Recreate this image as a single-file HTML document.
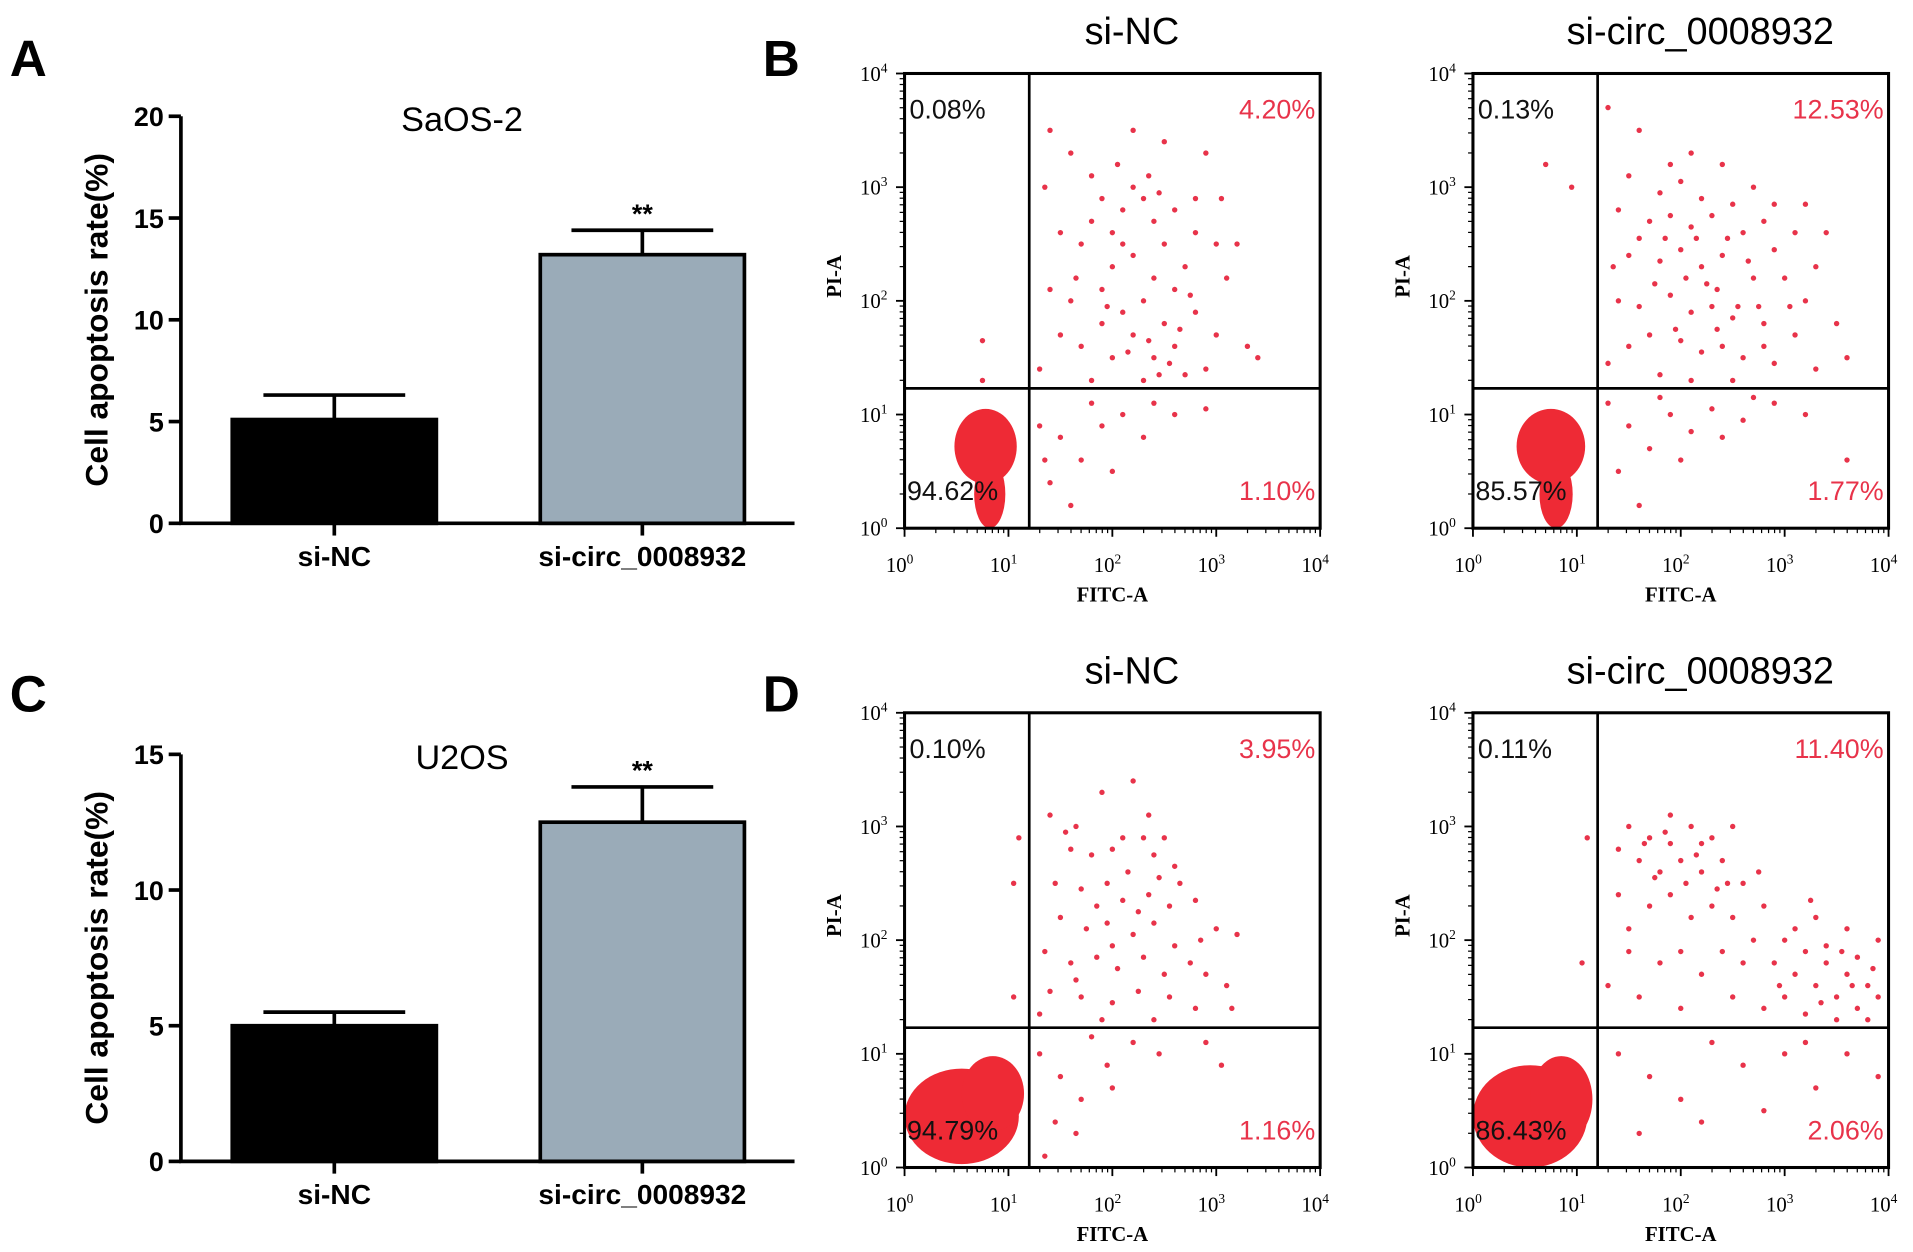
<!DOCTYPE html>
<html><head><meta charset="utf-8"><style>
html,body{margin:0;padding:0;background:#fff}
svg{display:block}
text{font-family:"Liberation Sans",Arial,sans-serif}
.serif{font-family:"Liberation Serif",serif}
</style></head><body>
<svg id="fig" width="1913" height="1252" viewBox="0 0 1565 1024" xmlns="http://www.w3.org/2000/svg">
<text x="8" y="62" font-size="42" font-weight="bold">A</text>
<text x="624" y="62" font-size="42" font-weight="bold">B</text>
<text x="8" y="582" font-size="42" font-weight="bold">C</text>
<text x="624" y="582" font-size="42" font-weight="bold">D</text>
<g id="charts"></g>
</svg>
<script>
// Bar chart data
const barCategories = ["si-NC","si-circ_0008932"];
const saosValues = [5.1, 13.2];
const saosErrors = [1.2, 1.2];
const saosTicks = [0,5,10,15,20];
const u2osValues = [5.0, 12.5];
const u2osErrors = [0.5, 1.3];
const u2osTicks = [0,5,10,15];
// Flow cytometry data (log10 units)
const q1Labels = ["0.08%","0.13%","0.10%","0.11%"];
const q2Labels = ["4.20%","12.53%","3.95%","11.40%"];
const q3Labels = ["94.62%","85.57%","94.79%","86.43%"];
const q4Labels = ["1.10%","1.77%","1.16%","2.06%"];
const flowTitles = ["si-NC","si-circ_0008932"];
const gateX = [1.2,1.2,1.2,1.2];
const gateY = [1.23,1.23,1.23,1.23];
const flow1Points = [[1.4,3.5],[1.6,3.3],[1.8,3.1],[2.2,3.5],[2.5,3.4],[2.9,3.3],[1.9,2.9],[2.1,2.8],[2.3,2.9],[2.4,2.7],[2.6,2.8],[2.8,2.6],[3.0,2.5],[1.5,2.6],[1.7,2.5],[2.0,2.6],[2.2,2.4],[2.5,2.5],[2.7,2.3],[3.1,2.2],[1.4,2.1],[1.6,2.0],[1.9,2.1],[2.1,1.9],[2.3,2.0],[2.5,1.8],[2.8,1.9],[3.0,1.7],[3.3,1.6],[1.5,1.7],[1.7,1.6],[2.0,1.5],[2.2,1.7],[2.4,1.5],[2.6,1.6],[2.9,1.4],[1.3,1.4],[1.8,1.3],[2.3,1.3],[2.7,1.35],[3.4,1.5],[2.0,2.3],[2.6,2.1],[1.9,1.8],[2.4,2.2],[2.8,2.9],[2.2,3.0],[1.8,2.7],[2.1,2.5],[2.35,1.65],[2.55,1.45],[2.45,1.35],[2.65,1.75],[2.15,1.55],[1.95,1.95],[2.75,2.05],[3.05,2.9],[3.2,2.5],[1.35,3.0],[2.05,3.2],[2.35,3.1],[1.65,2.2],[2.45,2.95],[1.3,0.9],[1.5,0.8],[1.7,0.6],[1.9,0.9],[2.1,1.0],[2.3,0.8],[2.6,1.0],[1.4,0.4],[1.6,0.2],[2.0,0.5],[1.8,1.1],[2.4,1.1],[1.35,0.6],[2.9,1.05],[0.75,1.65],[0.75,1.3]];
const flow2Points = [[1.3,3.7],[1.6,3.5],[1.9,3.2],[2.1,3.3],[2.4,3.2],[2.7,3.0],[1.5,3.1],[1.8,2.95],[2.0,3.05],[2.2,2.9],[2.5,2.85],[2.8,2.7],[3.1,2.6],[1.4,2.8],[1.7,2.7],[1.9,2.75],[2.1,2.65],[2.3,2.75],[2.6,2.6],[2.9,2.45],[3.3,2.3],[1.5,2.4],[1.8,2.35],[2.0,2.45],[2.2,2.3],[2.4,2.4],[2.7,2.2],[3.0,2.2],[3.2,2.0],[3.5,1.8],[1.4,2.0],[1.6,1.95],[1.9,2.05],[2.1,1.9],[2.3,1.95],[2.5,1.85],[2.8,1.8],[3.1,1.7],[1.5,1.6],[1.7,1.7],[2.0,1.65],[2.2,1.55],[2.4,1.6],[2.6,1.5],[2.9,1.45],[3.3,1.4],[1.3,1.45],[1.8,1.35],[2.1,1.3],[2.5,1.3],[2.8,1.6],[2.35,2.1],[2.05,2.2],[1.75,2.15],[2.65,2.35],[2.15,2.55],[2.45,2.55],[1.85,2.55],[2.25,2.15],[2.55,1.95],[1.95,1.75],[2.35,1.75],[2.75,1.95],[3.05,1.95],[3.4,2.6],[3.6,1.5],[1.35,2.3],[1.6,2.55],[2.9,2.85],[3.2,2.85],[1.3,1.1],[1.5,0.9],[1.7,0.7],[1.9,1.0],[2.1,0.85],[2.3,1.05],[2.6,0.95],[2.9,1.1],[3.2,1.0],[1.4,0.5],[1.6,0.2],[2.0,0.6],[1.8,1.15],[2.4,0.8],[3.6,0.6],[2.7,1.15],[0.95,3.0],[0.7,3.2]];
const flow3Points = [[1.4,3.1],[1.65,3.0],[1.9,3.3],[2.2,3.4],[2.3,2.9],[2.5,2.9],[1.6,2.8],[1.8,2.75],[2.0,2.8],[2.15,2.6],[2.4,2.75],[2.6,2.65],[1.45,2.5],[1.7,2.45],[1.95,2.5],[2.1,2.35],[2.35,2.4],[2.55,2.3],[2.8,2.35],[3.0,2.1],[1.5,2.2],[1.75,2.1],[1.95,2.15],[2.2,2.05],[2.4,2.15],[2.6,1.95],[2.85,2.0],[3.2,2.05],[1.35,1.9],[1.6,1.8],[1.85,1.85],[2.05,1.75],[2.3,1.85],[2.5,1.7],[2.75,1.8],[3.1,1.6],[1.4,1.55],[1.7,1.5],[2.0,1.45],[2.25,1.55],[2.55,1.5],[2.8,1.4],[1.3,1.35],[1.9,1.3],[2.4,1.3],[3.15,1.4],[2.1,2.9],[1.85,2.3],[2.45,2.55],[2.25,2.25],[1.65,1.65],[2.65,2.5],[2.0,1.95],[2.9,1.7],[1.55,2.95],[2.35,3.1],[1.3,1.0],[1.5,0.8],[1.7,0.6],[1.95,0.9],[2.2,1.1],[2.45,1.0],[2.9,1.1],[1.45,0.4],[1.65,0.3],[2.0,0.7],[1.8,1.15],[3.05,0.9],[1.35,0.1],[1.1,2.9],[1.05,2.5],[1.05,1.5]];
const flow4Points = [[1.5,3.0],[1.7,2.9],[1.9,3.1],[2.1,3.0],[2.3,2.9],[2.5,3.0],[1.6,2.7],[1.8,2.6],[2.0,2.7],[2.2,2.6],[2.4,2.7],[2.6,2.5],[1.4,2.4],[1.7,2.3],[1.9,2.4],[2.1,2.2],[2.3,2.3],[2.5,2.2],[2.8,2.3],[3.0,2.0],[3.2,1.9],[3.4,1.8],[3.6,1.7],[3.8,1.6],[3.9,1.5],[3.1,1.7],[3.3,1.6],[3.5,1.5],[3.7,1.4],[2.9,1.8],[2.7,2.0],[2.6,1.8],[3.0,1.5],[3.2,1.35],[3.5,1.3],[3.8,1.3],[2.4,1.9],[2.2,1.7],[2.0,1.9],[1.8,1.8],[1.5,1.9],[1.3,1.6],[1.6,1.5],[2.0,1.4],[2.5,1.5],[2.8,1.4],[3.3,2.2],[3.6,2.1],[3.9,2.0],[3.4,1.95],[3.7,1.85],[3.1,2.1],[1.5,2.1],[1.4,2.8],[1.9,2.85],[2.15,2.75],[2.35,2.45],[2.05,2.5],[1.75,2.55],[3.85,1.75],[1.65,2.85],[2.2,2.85],[1.85,2.95],[2.45,2.5],[2.75,2.6],[3.25,2.35],[3.55,1.9],[3.65,1.6],[3.35,1.45],[2.95,1.6],[1.4,1.0],[1.7,0.8],[2.0,0.6],[2.3,1.1],[2.6,0.9],[3.0,1.0],[3.3,0.7],[3.6,1.0],[3.9,0.8],[1.6,0.3],[2.8,0.5],[3.2,1.1],[2.2,0.4],[1.1,2.9],[1.05,1.8]];
const flowClusters = [
  [[0.78,0.72,0.3,0.33],[0.82,0.3,0.15,0.3]],
  [[0.75,0.72,0.33,0.33],[0.8,0.3,0.16,0.3]],
  [[0.55,0.45,0.55,0.42],[0.85,0.65,0.3,0.33]],
  [[0.55,0.45,0.55,0.45],[0.85,0.6,0.3,0.38]]
];
const decadeTicks = [0,1,2,3,4];

const NS="http://www.w3.org/2000/svg";
const root=document.getElementById('charts');
function mk(tag,attrs,parent){const e=document.createElementNS(NS,tag);for(const k in attrs)e.setAttribute(k,attrs[k]);(parent||root).appendChild(e);return e;}

function barChart(o){
  const g=mk('g',{});
  
  
  const y=v=>o.y0-(v/o.max)*(o.y0-o.yTop);
  const barX=[o.x0+42,o.x0+294], bw=167;
  const colors=["#000","#9aabb8"];
  barCategories.forEach((c,i)=>{
    const b=mk('rect',{x:barX[i],y:y(o.vals[i]),width:bw,height:o.y0-y(o.vals[i]),fill:colors[i],stroke:"#000","stroke-width":3},g);
    
    
    const cx=barX[i]+bw/2, top=y(o.vals[i]+o.errs[i]);
    const eb=mk('path',{d:`M${cx},${y(o.vals[i])}V${top}M${cx-58},${top}H${cx+58}`,stroke:"#000","stroke-width":3,fill:"none"},g);
    
    
    mk('line',{x1:cx,x2:cx,y1:o.y0,y2:o.y0+10,stroke:"#000","stroke-width":3},g);
    const t=mk('text',{x:cx,y:o.y0+35,"font-size":23,"font-weight":"bold","text-anchor":"middle"},g);
    t.textContent=c;
    
    
  });
  const st=mk('text',{x:barX[1]+bw/2,y:y(o.vals[1]+o.errs[1])-6,"font-size":22,"font-weight":"bold","text-anchor":"middle"},g);
  st.textContent="**";
  
  
  mk('path',{d:`M${o.x0},${o.yTop}V${o.y0}H${o.x0+502}`,stroke:"#000","stroke-width":3,fill:"none"},g);
  o.ticks.forEach(v=>{
    mk('line',{x1:o.x0-10,x2:o.x0,y1:y(v),y2:y(v),stroke:"#000","stroke-width":3},g);
    const t=mk('text',{x:o.x0-14,y:y(v)+8,"font-size":22,"font-weight":"bold","text-anchor":"end"},g);
    t.textContent=v;
    
    
  });
  const yt=mk('text',{x:0,y:0,"font-size":26,"font-weight":"bold","text-anchor":"middle",transform:`translate(${o.x0-60},${(o.yTop+o.y0)/2}) rotate(-90)`},g);
  yt.textContent="Cell apoptosis rate(%)";
  
  
  const tt=mk('text',{x:o.x0+230,y:o.yTop+12,"font-size":28,"text-anchor":"middle"},g);
  tt.textContent=o.title;
  
  
}
barChart({name:'saos2-bar-chart',x0:148,y0:428,yTop:95,max:20,vals:saosValues,errs:saosErrors,ticks:saosTicks,title:'SaOS-2'});
barChart({name:'u2os-bar-chart',x0:148,y0:950,yTop:617,max:15,vals:u2osValues,errs:u2osErrors,ticks:u2osTicks,title:'U2OS'});

function flowPlot(idx,x0,yTop,pts,title){
  const W=340,H=372,y0=yTop+H;
  const g=mk('g',{});
  
  
  const sx=v=>x0+v/4*W, sy=v=>y0-v/4*H;
  flowClusters[idx].forEach(c=>{
    const e=mk('ellipse',{cx:sx(c[0]),cy:sy(c[1]),rx:c[2]/4*W,ry:c[3]/4*H,fill:"#ee2a35"},g);
    
    
  });
  pts.forEach(p=>{
    const d=mk('circle',{cx:sx(p[0]),cy:sy(p[1]),r:2.2,fill:"#e8334a"},g);
    
    
  });
  mk('rect',{x:x0,y:yTop,width:W,height:H,fill:"none",stroke:"#000","stroke-width":2.5},g);
  const gt=mk('path',{d:`M${sx(gateX[idx])},${yTop}V${y0}M${x0},${sy(gateY[idx])}H${x0+W}`,stroke:"#000","stroke-width":2.2,fill:"none"},g);
  
  
  decadeTicks.forEach(d=>{
    mk('line',{x1:sx(d),x2:sx(d),y1:y0,y2:y0+7,stroke:"#000","stroke-width":1.5},g);
    mk('line',{x1:x0-7,x2:x0,y1:sy(d),y2:sy(d),stroke:"#000","stroke-width":1.5},g);
    if(d<4){for(let k=2;k<10;k++){const m=d+Math.log10(k);
      mk('line',{x1:sx(m),x2:sx(m),y1:y0,y2:y0+4,stroke:"#000","stroke-width":1},g);
      mk('line',{x1:x0-4,x2:x0,y1:sy(m),y2:sy(m),stroke:"#000","stroke-width":1},g);}}
    const tx=mk('text',{x:sx(d)-4,y:y0+36,"font-size":17,"text-anchor":"middle","class":"serif"},g);
    tx.innerHTML='10<tspan dy="-7" font-size="11">'+d+'</tspan>';
    
    
    const ty=mk('text',{x:x0-14,y:sy(d)+6,"font-size":17,"text-anchor":"end","class":"serif"},g);
    ty.innerHTML='10<tspan dy="-7" font-size="11">'+d+'</tspan>';
    
    
  });
  const xl=mk('text',{x:x0+170,y:y0+60,"font-size":17,"font-weight":"bold","text-anchor":"middle","class":"serif"},g);
  xl.textContent="FITC-A";
  
  
  const yl=mk('text',{x:0,y:0,"font-size":17,"font-weight":"bold","text-anchor":"middle","class":"serif",transform:`translate(${x0-52},${yTop+H/2-20}) rotate(-90)`},g);
  yl.textContent="PI-A";
  
  
  const tt=mk('text',{x:x0+186,y:yTop-24,"font-size":31,"text-anchor":"middle"},g);
  tt.textContent=title;
  
  
  const lab=[[q1Labels[idx],x0+4,yTop+37,"start","#111"],[q2Labels[idx],x0+W-4,yTop+37,"end","#e8334a"],[q3Labels[idx],x0+2,y0-23,"start","#111"],[q4Labels[idx],x0+W-4,y0-23,"end","#e8334a"]];
  lab.forEach((l,i)=>{
    const t=mk('text',{x:l[1],y:l[2],"font-size":22,"text-anchor":l[3],fill:l[4]},g);
    t.textContent=l[0];
    
    
  });
}
flowPlot(0,740,60,flow1Points,flowTitles[0]);
flowPlot(1,1205,60,flow2Points,flowTitles[1]);
flowPlot(2,740,583,flow3Points,flowTitles[0]);
flowPlot(3,1205,583,flow4Points,flowTitles[1]);
</script>
</body></html>
